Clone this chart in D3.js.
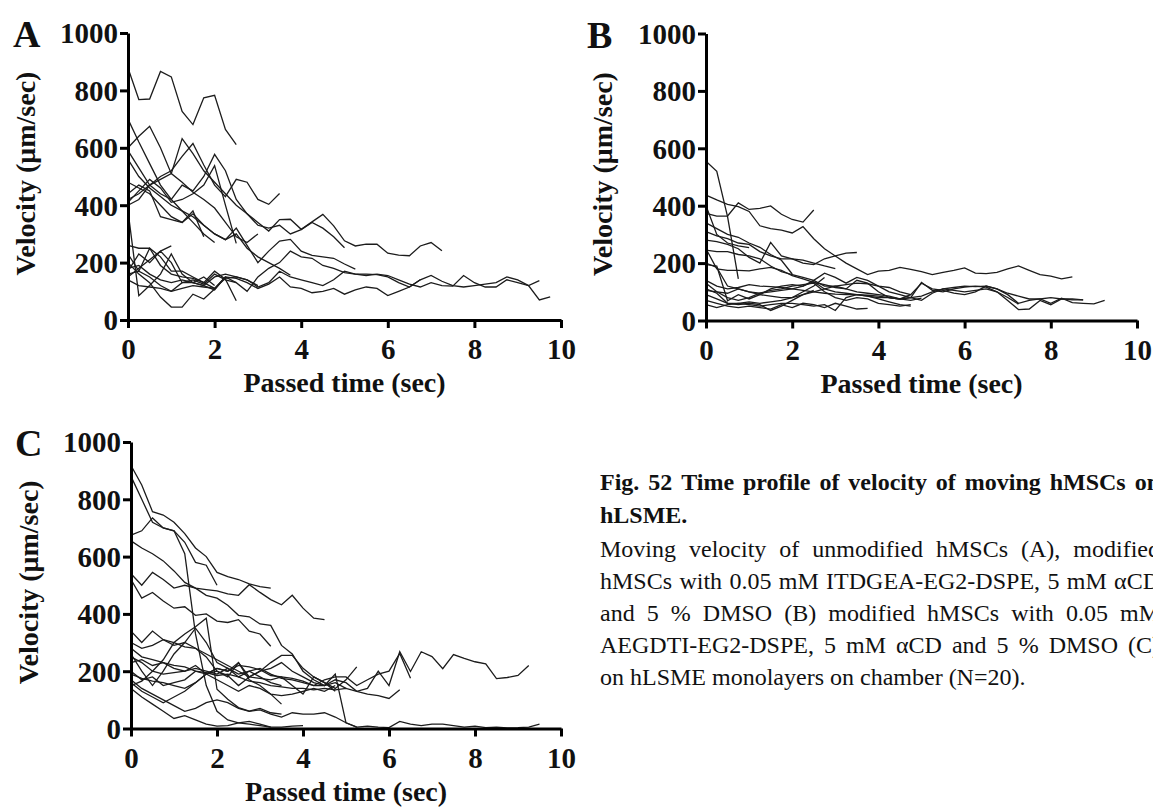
<!DOCTYPE html>
<html>
<head>
<meta charset="utf-8">
<script src="https://cdn.jsdelivr.net/npm/d3@7/dist/d3.min.js"></script>
<style>
  html, body { margin: 0; padding: 0; background: #fff; }
  svg { display: block; }
  text { font-family: "Liberation Serif", "Times New Roman", serif; fill: #111; }
</style>
</head>
<body>
<svg id="fig" width="1153" height="807"></svg>
<script>
// Sampling instants (s) shared by every tracked cell
const timeGrid = [0, 0.25, 0.5, 0.75, 1, 1.25, 1.5, 1.75, 2, 2.25, 2.5, 2.75, 3, 3.25, 3.5, 3.75,
  4, 4.25, 4.5, 4.75, 5, 5.25, 5.5, 5.75, 6, 6.25, 6.5, 6.75, 7, 7.25, 7.5, 7.75,
  8, 8.25, 8.5, 8.75, 9, 9.25, 9.5, 9.75];

const xTicks = [0, 2, 4, 6, 8, 10];
const yTicks = [0, 200, 400, 600, 800, 1000];

// (A) unmodified hMSCs, velocity in µm/sec per sampling instant
const velocityA = [
  [878, 768, 770, 866, 847, 727, 681, 774, 783, 664, 611],
  [700, 620, 545, 470, 420, 380, 340, 300, 270],
  [600, 640, 675, 600, 510, 480, 445, 420, 390, 340, 290, 270, 300],
  [420, 440, 470, 490, 510, 632, 580, 520, 480, 440, 400, 370, 340, 310, 350, 351, 316, 342, 368, 328, 276, 258, 264, 264, 233, 226, 224, 258, 270, 241],
  [400, 420, 470, 500, 520, 570, 615, 540, 470, 430, 490, 480, 420, 403, 441],
  [590, 530, 470, 440, 420, 470, 450, 500, 577, 520, 420, 370, 330, 320, 330, 300, 315, 340, 320, 290, 252],
  [410, 450, 490, 460, 410, 420, 440, 470, 538, 400, 267],
  [560, 500, 460, 430, 400, 380, 360, 330, 300, 280, 320, 260, 200, 240, 275, 281, 240, 225, 220, 215, 195, 177],
  [480, 460, 440, 400, 360, 340, 370, 330, 300, 280, 300, 250, 220, 200, 180, 156],
  [440, 470, 450, 360, 350, 340, 380, 290],
  [150, 180, 210, 240, 258],
  [180, 190, 160, 140, 130, 140, 130, 120, 150, 160, 150, 140, 115, 130, 170, 150, 140, 130, 120, 140, 170, 160, 155, 160, 155, 140, 125, 115, 130, 120, 118, 155, 130, 115, 115, 140, 130, 120, 137],
  [160, 170, 150, 120, 100, 130, 140, 125, 160, 140, 130, 100, 150, 180, 200, 240, 220, 215, 190, 180, 165, 160, 160, 158, 150, 130, 115, 140, 155, 135, 120, 115, 120, 125, 130, 150, 140, 120, 70, 81],
  [140, 120, 115, 110, 100, 110, 120, 115, 110, 150, 145, 130, 110, 125, 150, 115, 110, 95, 100, 110, 90, 105, 115, 110, 85, 100, 115, 140],
  [260, 250, 250, 220, 170, 170, 150, 130, 170, 142, 67],
  [200, 160, 130, 80, 45, 45, 90, 73, 108, 150],
  [380, 85, 120, 160, 230, 160, 130, 120, 105, 150, 130],
  [230, 170, 250, 190, 160, 150, 145, 130, 110, 145, 150, 140, 120],
  [170, 230, 200, 240, 200, 130, 130, 150, 120]
];

// (B) hMSCs modified with ITDGEA-EG2-DSPE
const velocityB = [
  [555, 520, 362, 145],
  [437, 420, 405, 397, 380, 330, 320, 315, 305, 327, 285, 250, 225, 200, 180, 160, 172, 175, 185, 178, 170, 160, 168, 175, 183, 165, 163, 168, 180, 190, 175, 160, 155, 145, 152],
  [373, 364, 364, 410, 387, 391, 399, 370, 352, 343, 385],
  [400, 300, 270, 260, 254],
  [340, 320, 300, 290, 270, 255, 230, 210, 162],
  [310, 295, 285, 270, 265, 240, 225, 215, 215, 210, 200, 190, 181],
  [280, 275, 265, 250, 220, 200, 272, 225, 215, 200, 195, 215, 225, 235, 237],
  [250, 180, 175, 175, 173, 180, 185, 175, 156, 145, 133, 125, 115, 110, 140, 130, 100, 80, 75, 80, 133, 105, 100, 110, 116, 120, 116, 100, 70, 38, 40, 70, 55, 75, 72, 72],
  [195, 190, 69, 90, 75, 90, 110, 120, 125, 120, 135, 110, 100, 95, 90, 85, 80, 80, 75, 90, 130, 110, 105, 95, 90, 100, 120, 110, 90, 60, 70, 75, 60, 78, 62, 60, 58, 70],
  [140, 120, 110, 115, 125, 120, 118, 115, 110, 105, 100, 95, 92, 90, 90, 88, 85, 80, 75, 80, 85, 100, 110, 105, 100, 105, 110, 100, 80, 57],
  [130, 100, 80, 70, 80, 95, 105, 110, 120, 125, 130, 100, 80, 70, 80, 75, 60, 55, 50, 55],
  [110, 95, 60, 55, 60, 55, 35, 50, 70, 90, 105],
  [90, 75, 60, 60, 55, 50, 55, 60, 60, 55, 50, 55, 35, 80, 90, 85, 75, 65, 55, 50],
  [70, 60, 50, 45, 50, 45, 40, 55, 45, 60, 55, 45, 60, 50, 40, 42],
  [55, 45, 55, 60, 65, 60, 65, 70, 80, 100, 120, 150],
  [105, 100, 95, 110, 100, 95, 100, 105, 110, 120, 140, 165, 150, 130, 150, 140, 120, 100, 90, 80, 70, 95, 110, 115, 120, 118, 120, 110, 95, 85, 75, 75, 80, 75, 75, 72],
  [245, 240, 240, 230, 225, 215, 190, 170, 160, 150, 140, 120, 120, 110, 100, 95, 90, 85, 75, 70, 78],
  [200, 185, 120, 110, 100, 90, 85, 80, 80, 90, 100, 110, 120, 125, 130, 128, 120, 115, 100, 90]
];

// (C) hMSCs modified with AEGDTI-EG2-DSPE
const velocityC = [
  [918, 850, 757, 745, 720, 680, 630, 600, 545, 530, 520, 505, 495, 490],
  [880, 800, 720, 700, 690, 650, 580, 570, 500],
  [675, 690, 735, 700, 690, 610, 330, 150, 60, 30, 20, 15, 10, 5],
  [150, 165, 200, 240, 300, 330, 355, 385, 137, 102, 73, 61, 70, 55, 50],
  [655, 630, 610, 585, 550, 510, 490, 465, 455, 430, 395, 390, 365, 360, 290, 260, 200, 170, 150, 160, 140],
  [540, 500, 545, 520, 490, 500, 490, 485, 480, 470, 465, 502, 475, 450, 432, 465, 420, 385, 380],
  [520, 455, 475, 445, 420, 425, 395, 400, 375, 370, 380, 340, 330, 287],
  [200, 170, 180, 150, 160, 170, 200, 190, 210, 200, 230, 180, 200, 210, 230, 200, 180, 160, 150, 170, 160, 130, 140, 200, 150, 268, 199, 268, 251, 209, 258, 245, 233, 226, 174, 178, 185, 220],
  [250, 230, 200, 190, 195, 200, 210, 200, 190, 210, 190, 200, 210, 190, 175, 170, 160, 150, 170, 180, 180, 150, 170, 190, 200, 262, 175],
  [280, 250, 240, 230, 220, 215, 200, 195, 185, 190, 180, 165, 160, 150, 145, 140, 140, 135, 140, 135, 140, 130, 120, 115, 105, 135],
  [190, 175, 165, 160, 150, 140, 160, 190, 200, 185, 150, 180, 200, 230, 255, 255, 210, 180, 160, 140, 170, 215],
  [160, 130, 110, 90, 110, 130, 160, 190, 210, 200, 220, 215, 205, 185, 180, 175, 165, 150, 150, 190, 20, 5, 8, 5, 3, 25, 15, 10, 15, 15, 10, 5, 8, 3, 5, 2, 3, 5, 15],
  [340, 300, 340, 310, 300, 285, 280, 260, 240, 220, 200, 180, 175, 170, 180, 150, 120, 180, 160, 130],
  [300, 280, 290, 310, 290, 300, 280, 250, 200, 180, 230, 170, 150, 120, 85],
  [230, 240, 220, 230, 210, 200, 220, 190, 170, 150, 130, 150, 140, 120, 115, 120, 130, 140, 130, 150],
  [140, 110, 85, 60, 35, 45, 30, 15, 8, 10, 20, 25, 15, 5, 5, 8, 10],
  [170, 140, 120, 100, 80, 60, 70, 90, 100, 90, 70, 60, 65, 50, 40, 55, 50, 50, 55, 40, 20, 5],
  [260, 200, 150, 200, 260, 300, 350, 300, 230, 210, 180, 200, 180, 160, 150]
];

const captionTitle = ["Fig. 52 Time profile of velocity of moving hMSCs on", "hLSME."];
const captionBody = [
  "Moving velocity of unmodified hMSCs (A), modified",
  "hMSCs with 0.05 mM ITDGEA-EG2-DSPE, 5 mM \u03b1CD",
  "and 5 % DMSO (B) modified hMSCs with 0.05 mM",
  "AEGDTI-EG2-DSPE, 5 mM \u03b1CD and 5 % DMSO (C)",
  "on hLSME monolayers on chamber (N=20)."
];

const svg = d3.select("#fig");
const FONT = '"Liberation Serif", "Times New Roman", serif';

const panels = [
  { letter: "A", data: velocityA, left: 128, right: 561, top: 33, bottom: 320, letterX: 13, ylabX: 35 },
  { letter: "B", data: velocityB, left: 706, right: 1137, top: 33.5, bottom: 320.5, letterX: 587, ylabX: 612 },
  { letter: "C", data: velocityC, left: 131, right: 561, top: 442, bottom: 728.5, letterX: 15, ylabX: 38 }
];

panels.forEach(p => {
  const x = d3.scaleLinear().domain([0, 10]).range([p.left, p.right]);
  const y = d3.scaleLinear().domain([0, 1000]).range([p.bottom, p.top]);
  const g = svg.append("g");

  const line = d3.line()
    .x((d, i) => x(timeGrid[i]))
    .y(d => y(d));

  g.append("g").selectAll("path")
    .data(p.data)
    .join("path")
    .attr("d", line)
    .attr("fill", "none")
    .attr("stroke", "#1c1c1c")
    .attr("stroke-width", 1.3)
    .attr("stroke-linejoin", "miter");

  const xAxis = g.append("g")
    .attr("transform", `translate(0,${p.bottom})`)
    .call(d3.axisBottom(x).tickValues(xTicks).tickFormat(d3.format("d")).tickSize(8).tickSizeOuter(0));
  const yAxis = g.append("g")
    .attr("transform", `translate(${p.left},0)`)
    .call(d3.axisLeft(y).tickValues(yTicks).tickFormat(d3.format("d")).tickSize(8).tickSizeOuter(0));

  [xAxis, yAxis].forEach(ax => {
    ax.select(".domain").attr("stroke", "#000").attr("stroke-width", 3);
    ax.selectAll(".tick line").attr("stroke", "#000").attr("stroke-width", 3);
    ax.selectAll(".tick text")
      .attr("fill", "#111")
      .style("font-family", FONT)
      .style("font-size", "29px")
      .style("font-weight", "bold");
  });
  xAxis.selectAll(".tick text").attr("y", 39).attr("dy", 0);
  yAxis.selectAll(".tick text").attr("x", -10).attr("dy", "0.34em");

  // axis titles
  g.append("text")
    .attr("x", (p.left + p.right) / 2)
    .attr("y", p.bottom + 72)
    .attr("text-anchor", "middle")
    .style("font-size", "28px").style("font-weight", "bold")
    .text("Passed time (sec)");
  g.append("text")
    .attr("transform", `translate(${p.ylabX},${(p.top + p.bottom) / 2 - 3}) rotate(-90)`)
    .attr("text-anchor", "middle")
    .style("font-size", "28px").style("font-weight", "bold")
    .text("Velocity (\u03bcm/sec)");

  // panel letter
  g.append("text")
    .attr("x", p.letterX)
    .attr("y", p.top + 14)
    .style("font-size", "38px").style("font-weight", "bold")
    .text(p.letter);
});

// caption, justified between two margins
const capLeft = 600, capWidth = 560, capSize = 24;
function captionLine(str, baseline, bold, justify) {
  const t = svg.append("text")
    .attr("transform", `translate(${capLeft},${baseline})`)
    .style("font-size", capSize + "px")
    .style("font-weight", bold ? "bold" : "normal");
  const words = str.split(" ");
  const spans = words.map(w => t.append("tspan").text(w));
  const widths = spans.map(s => s.node().getComputedTextLength());
  const space = capSize * 0.25;
  const total = d3.sum(widths);
  const gap = justify && words.length > 1 ? Math.max(space, (capWidth - total) / (words.length - 1)) : space;
  let cx = 0;
  spans.forEach((s, i) => { s.attr("x", cx).attr("y", 0); cx += widths[i] + gap; });
}
captionLine(captionTitle[0], 490, true, true);
captionLine(captionTitle[1], 523, true, false);
captionBody.forEach((l, i) => captionLine(l, 557 + i * 32, false, i < captionBody.length - 1));
</script>
</body>
</html>
